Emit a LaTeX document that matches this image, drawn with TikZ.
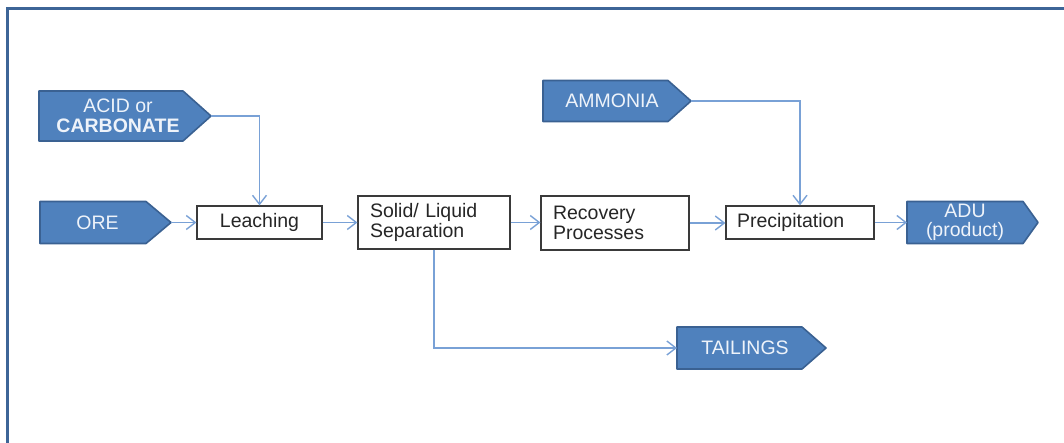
\documentclass[tikz,border=0pt]{standalone}
\usepackage{fontspec}
\setmainfont{Liberation Sans}
\usetikzlibrary{arrows.meta}
\definecolor{frameblue}{HTML}{3D6597}
\definecolor{tagfill}{HTML}{4F81BD}
\definecolor{tagedge}{HTML}{3A6192}
\definecolor{tagink}{HTML}{EEF3FA}
\definecolor{flowline}{HTML}{79A1D6}
\definecolor{boxedge}{HTML}{3A3A3A}
\definecolor{boxink}{HTML}{262626}

\begin{document}
\begin{tikzpicture}[x=1pt,y=-1pt,
  tag/.style={fill=tagfill, draw=tagedge, line width=1.6pt, line join=round},
  tagtext/.style={text=tagink, font=\fontsize{19.5}{19.5}\selectfont, align=center, inner sep=0pt},
  stepbox/.style={draw=boxedge, line width=1.2pt, fill=white, text=boxink,
    font=\fontsize{19.5}{20}\selectfont, inner ysep=0pt},
  flow/.style={draw=flowline, line width=1.5pt,
    -{Straight Barb[length=9pt,width=14pt,line width=1.4pt]}},
]
\useasboundingbox (0,0) rectangle (1064,443);
\clip (0,0) rectangle (1064,443);

% outer frame, running off the right and bottom edges
\draw[frameblue, line width=3.5pt] (7.5,8.5) rectangle (1100,480);

% input / output tags
\path[tag] (39,91) -- (183,91) -- (211,116) -- (183,141) -- (39,141) -- cycle;
\node[tagtext] (acid) at (118,116) {ACID or\\\textbf{CARBONATE}};
\coordinate (acid tip) at (211,116);

\path[tag] (40,201.5) -- (146,201.5) -- (171,222.5) -- (146,243.5) -- (40,243.5) -- cycle;
\node[tagtext] (ore) at (97.5,222.5) {ORE};
\coordinate (ore tip) at (171,222.5);

\path[tag] (543,80.5) -- (668,80.5) -- (691,101) -- (668,121.5) -- (543,121.5) -- cycle;
\node[tagtext] (amm) at (612,101) {AMMONIA};
\coordinate (amm tip) at (691,101);

\path[tag] (677,327) -- (802,327) -- (826,348) -- (802,369) -- (677,369) -- cycle;
\node[tagtext] (tail) at (745,348) {TAILINGS};
\coordinate (tail in) at (677,348);

\path[tag] (907,201.5) -- (1023,201.5) -- (1038,222.5) -- (1023,243.5) -- (907,243.5) -- cycle;
\node[tagtext] (adu) at (965,222.5) {ADU\\(product)};
\coordinate (adu in) at (907,222.5);

% process steps
\node[stepbox, minimum width=125pt, minimum height=33pt, inner xsep=0pt, align=center]
  (leach) at (259.5,222.5) {Leaching};
\node[stepbox, text width=128pt, inner xsep=12pt, minimum height=53pt, align=left]
  (sep) at (434,222.5) {Solid/ Liquid\\Separation};
\node[stepbox, text width=124pt, inner xsep=12pt, minimum height=54pt, align=left]
  (rec) at (615,223) {Recovery\\Processes};
\node[stepbox, text width=126pt, inner xsep=11pt, minimum height=33pt, align=left]
  (prec) at (800,222.5) {Precipitation};

% connectors
\draw[flow] (ore tip) -- (leach.west);
\draw[flow] (acid tip) -| (leach.north);
\draw[flow] (leach.east) -- (sep.west);
\draw[flow] (sep.east) -- (sep.east -| rec.west);
\draw[flow] (rec.east) -- (rec.east -| prec.west);
\draw[flow] (prec.east) -- (adu in);
\draw[flow] (amm tip) -| (prec.north);
\draw[flow] (sep.south) |- (tail in);
\end{tikzpicture}
\end{document}
